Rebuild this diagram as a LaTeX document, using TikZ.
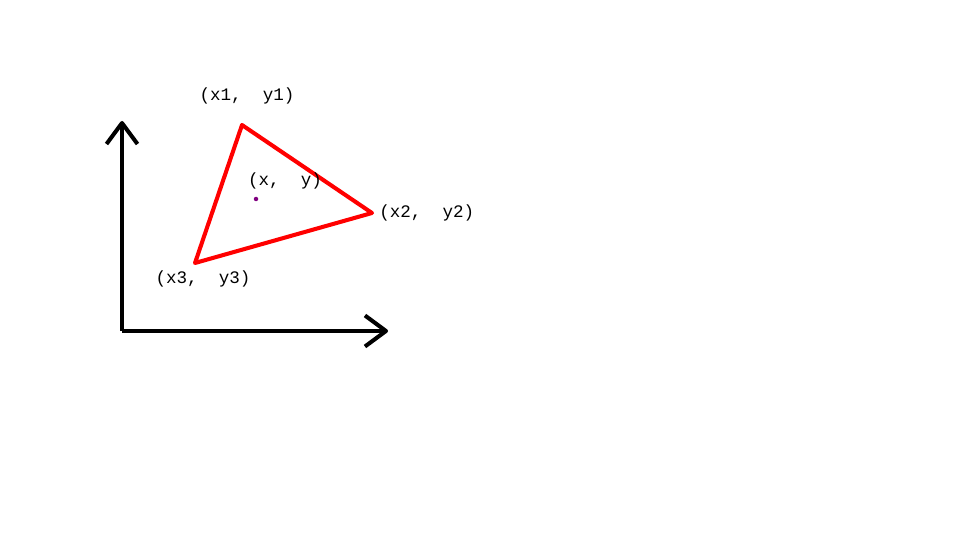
\documentclass[tikz,border=0pt]{standalone}
\usepackage{fontspec}
\setmonofont{Liberation Mono}
\usetikzlibrary{arrows.meta}
\tikzset{axis/.style = {line width=2.3pt, -{Straight Barb[length=0.42cm,width=0.62cm,line join=round]}}}
\tikzset{tri/.style = {draw=red, line width=2.3pt, line join=round}}
\tikzset{lbl/.style = {font=\ttfamily\fontsize{10}{12}\selectfont, inner sep=0pt}}
\begin{document}
\begin{tikzpicture}
            \useasboundingbox (0,0) rectangle (19.2,-10.8);
            % Axes
            \coordinate (o) at (2.44,-6.62);
            \coordinate (xend) at (7.76,-6.62);
            \coordinate (yend) at (2.44,-2.42);
            \draw[axis] (o) -- (xend);
            \draw[axis] (o) -- (yend);

            % Vertices
            \coordinate (v1) at (4.84,-2.50);
            \coordinate (v2) at (7.44,-4.26);
            \coordinate (v3) at (3.90,-5.26);
            \draw[tri] (v1) -- (v2) -- (v3) -- cycle;

            % Point
            \fill[violet] (5.12,-3.98) circle (0.045) coordinate (p);

            % Labels
            \node[lbl] (l1) at (4.94,-1.92) {(x1,\ \ y1)};
            \node[lbl, anchor=west] (l2) at (7.58,-4.26) {(x2,\ \ y2)};
            \node[lbl] (l3) at (4.06,-5.58) {(x3,\ \ y3)};
            \node[lbl] (l0) at (5.70,-3.62) {(x,\ \ y)};
        \end{tikzpicture}
\end{document}
